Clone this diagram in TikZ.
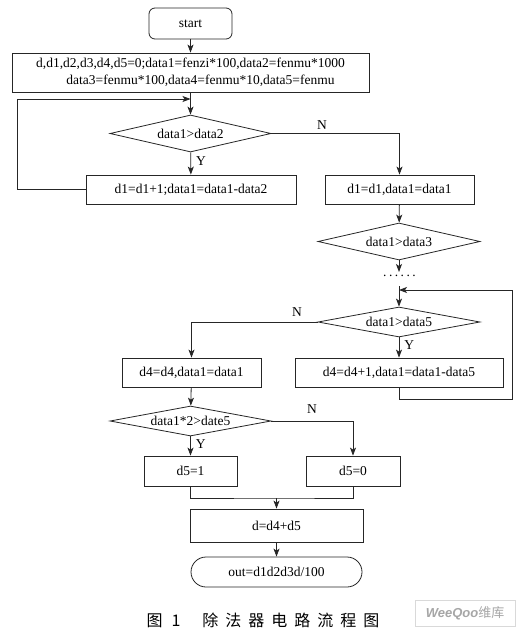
\documentclass[tikz,border=0pt]{standalone}
\usepackage{fontspec}
\setmainfont{Liberation Serif}
\newfontfamily\cjk{Noto Sans CJK SC}
\newfontfamily\wmfont{Liberation Sans}
\usetikzlibrary{shapes.geometric,arrows.meta}
\begin{document}
\begin{tikzpicture}[x=1pt,y=-1pt,
  every node/.style={font=\fontsize{13.5}{15.5}\selectfont, inner sep=0pt},
  line/.style={line width=0.8pt, draw=black!85},
  arr/.style={line, -{Stealth[length=8pt,width=6pt,inset=2pt]}},
  boxnode/.style={draw=black!85, line width=0.8pt, rectangle, minimum height=29pt},
  decision/.style={draw=black!85, line width=0.8pt, diamond, aspect=4.4, inner sep=0pt},
  term/.style={draw=black!85, line width=0.8pt, rectangle, rounded corners=6pt},
  lbl/.style={font=\fontsize{13.5}{15.5}\selectfont}
]
\useasboundingbox (0,0) rectangle (521,634);
\fill[white] (0,0) rectangle (521,634);

\node[term, minimum width=83pt, minimum height=31pt] (start) at (190.5,23.5) {start};
\node[boxnode, minimum width=357pt, minimum height=39pt, align=center] (init) at (190.5,72.5)
  {d,d1,d2,d3,d4,d5=0;data1=fenzi*100,data2=fenmu*1000\\[1pt]\hspace*{20pt}data3=fenmu*100,data4=fenmu*10,data5=fenmu};
\node[decision, minimum width=161pt, minimum height=37pt] (dia1) at (190.5,133.5) {data1>data2};
\node[boxnode, minimum width=210pt] (box1) at (191,189.5) {d1=d1+1;data1=data1-data2};
\node[boxnode, minimum width=149pt] (box2) at (399.5,189.5) {d1=d1,data1=data1};
\node[decision, minimum width=162pt, minimum height=37pt] (dia3) at (399,241.5) {data1>data3};
\node (dots) at (399.5,276) {.\hspace{2.5pt}.\hspace{2.5pt}.\hspace{2.5pt}.\hspace{2.5pt}.\hspace{2.5pt}.};
\node[decision, minimum width=162pt, minimum height=30pt] (dia5) at (399,322) {data1>data5};
\node[boxnode, minimum width=208pt] (box3) at (399,372.5) {d4=d4+1,data1=data1-data5};
\node[boxnode, minimum width=139pt] (box4) at (191.5,372.5) {d4=d4,data1=data1};
\node[decision, minimum width=161pt, minimum height=30pt] (dia6) at (190.5,421) {data1*2>date5};
\node[boxnode, minimum width=93pt, minimum height=30pt] (box5) at (190.5,471) {d5=1};
\node[boxnode, minimum width=94pt, minimum height=30pt] (box6) at (353,471) {d5=0};
\node[boxnode, minimum width=173pt, minimum height=33pt] (box7) at (276.5,525.5) {d=d4+d5};
\node[term, rounded corners=15pt, minimum width=171pt, minimum height=30pt] (out) at (276.5,572) {out=d1d2d3d/100};

\coordinate (j1) at (190.5,99);
\coordinate (c1) at (399,272);
\coordinate (c2) at (399,286);
\coordinate (j2) at (399,290);
\coordinate (m) at (276.5,498);

\draw[arr] (start) -- (init);
\draw[arr] (init) -- (dia1);
\draw[arr] (box1.west) -- (17,189.5) -- (17,99) -- (j1);
\draw[arr] (dia1) -- node[lbl, right=5pt, pos=0.4] {Y} (box1);
\draw[arr] (dia1.east) -| (box2.north);
\node[lbl] (n1) at (322,125) {N};
\draw[arr] (box2) -- (dia3);
\draw[arr] (dia3.south) -- (c1);
\draw[arr] (c2) -- (dia5.north);
\draw[arr] (box3.south) -- ++(0,11.5) -| (512,290) -- (j2);
\draw[arr] (dia5.west) -| (box4.north);
\node[lbl] (n2) at (297,312) {N};
\draw[arr] (dia5) -- node[lbl, right=5pt, pos=0.4] {Y} (box3);
\draw[arr] (box4) -- (dia6);
\draw[arr] (dia6) -- node[lbl, right=5pt, pos=0.4] {Y} (box5);
\draw[arr] (dia6.east) -| (box6.north);
\node[lbl] (n3) at (312,409) {N};
\draw[line] (box5.south) |- (m) -| (box6.south);
\draw[arr] (m) -- (box7);
\draw[arr] (box7) -- (out);

\node[font=\cjk\fontsize{16}{18}\selectfont] (cap) at (263,620)
  {图\hspace{9pt}1\hspace{22pt}除\hspace{7pt}法\hspace{7pt}器\hspace{7pt}电\hspace{7pt}路\hspace{7pt}流\hspace{7pt}程\hspace{7pt}图};
\node[draw=black!15, line width=0.5pt, minimum width=100pt, minimum height=26pt, text=black!35,
  font=\fontsize{13}{15}\selectfont] (wm) at (465,613) {{\wmfont\itshape\bfseries WeeQoo}{\cjk 维库}};
\end{tikzpicture}
\end{document}
